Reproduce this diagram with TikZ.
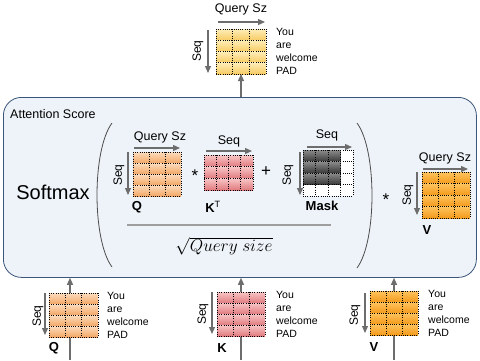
\documentclass[tikz,border=0pt]{standalone}
\usepackage[no-math]{fontspec}
\setmainfont{Liberation Sans}
\usetikzlibrary{arrows.meta,fit}
\definecolor{Qa}{HTML}{FCDDBE}\definecolor{Qb}{HTML}{F2A766}
\definecolor{Ka}{HTML}{F8C6C6}\definecolor{Kb}{HTML}{E07A7E}
\definecolor{Va}{HTML}{FFC45E}\definecolor{Vb}{HTML}{F39A1C}
\definecolor{Ya}{HTML}{FEEDB8}\definecolor{Yb}{HTML}{F7CB63}
\definecolor{Ma}{HTML}{8C8C8C}\definecolor{Mb}{HTML}{383838}
\definecolor{boxfill}{HTML}{EEF3F9}\definecolor{boxline}{HTML}{3A5578}
\definecolor{arrgray}{HTML}{6D6D6D}
\tikzset{
  arr/.style={-{Triangle[length=7pt,width=6pt]},draw=arrgray,line width=1.2pt},
  gridd/.style={draw=black,line width=0.7pt,dash pattern=on 0.7pt off 1.5pt},
  lbl/.style={font=\fontsize{12.5}{14}\selectfont,inner sep=0pt},
  seqlbl/.style={font=\fontsize{12}{14}\selectfont,inner sep=0pt,rotate=90},
  bl/.style={font=\fontsize{13}{15}\selectfont\bfseries,inner sep=0pt},
  words/.style={font=\fontsize{10.5}{13}\selectfont,align=left,inner sep=0pt,anchor=west},
  paren/.style={draw=black!70,line width=0.8pt},
  op/.style={inner sep=0pt,font=\fontsize{17}{18}\selectfont},
}
\newcommand{\gridlines}[6]{%
  \foreach \ii in {0,...,#5}{\pgfmathsetmacro{\xx}{#1+\ii*(#3-#1)/#5}\draw[gridd] (\xx,#2) -- (\xx,#4);}%
  \foreach \jj in {0,...,#6}{\pgfmathsetmacro{\yy}{#2+\jj*(#4-#2)/#6}\draw[gridd] (#1,\yy) -- (#3,\yy);}%
}
\newcommand{\gmat}[8]{%
  \node[fit={(#2,#3)(#4,#5)},inner sep=0pt,outer sep=0pt] (#1) {};
  \foreach \ii in {1,...,#7}{%
    \pgfmathsetmacro{\ya}{#3+(\ii-1)*(#5-#3)/#7}%
    \pgfmathsetmacro{\yb}{#3+\ii*(#5-#3)/#7}%
    \shade[top color=#8a,bottom color=#8b] (#2,\ya) rectangle (#4,\yb);}
  \gridlines{#2}{#3}{#4}{#5}{#6}{#7}
}
\begin{document}
\begin{tikzpicture}[x=1pt,y=-1pt]
\useasboundingbox (0,0) rectangle (480,360);
% attention box
\node[draw=boxline,fill=boxfill,line width=0.8pt,rounded corners=18pt,minimum width=473pt,minimum height=180pt,anchor=north west,inner sep=0pt] (box) at (3,97) {};
\node[lbl,anchor=west] (title) at (10,114) {Attention Score};
\node[inner sep=0pt,font=\fontsize{20}{22}\selectfont] (softmax) at (53,192) {Softmax};
% parentheses
\coordinate (lpt) at (112,123); \coordinate (lpb) at (112,267);
\coordinate (rpt) at (357,123); \coordinate (rpb) at (357,268);
\draw[paren] (lpt) .. controls (92,150) and (92,240) .. (lpb);
\draw[paren] (rpt) .. controls (377,150) and (377,241) .. (rpb);
% bottom input arrows (under matrices)
\coordinate (qin) at (70,360); \coordinate (kin) at (241,360); \coordinate (vin) at (394,360);
\draw[arr] (qin) -- (qin |- box.south);
\draw[arr] (kin) -- (kin |- box.south);
\draw[arr] (vin) -- (vin |- box.south);
% ---- top output matrix
\gmat{T}{216}{29}{266}{74}{3}{4}{Y}
\draw[arr] (T.south |- box.north) -- (T.south);
\draw[arr] ([xshift=2pt,yshift=7pt]T.north west) -- ([xshift=-1pt,yshift=7pt]T.north east);
\node[lbl] (tq) at (241,9) {Query Sz};
\draw[arr] ([xshift=-8pt,yshift=-1pt]T.north west) -- ([xshift=-8pt,yshift=1pt]T.south west);
\node[seqlbl] (ts) at (198,51) {Seq};
\node[words] (tw) at ([xshift=10pt]T.east) {You\\are\\welcome\\PAD};
% ---- inner Q
\gmat{iQ}{133}{152}{181}{196}{3}{4}{Q}
\draw[arr] ([xshift=1pt,yshift=4pt]iQ.north west) -- ([xshift=-1pt,yshift=4pt]iQ.north east);
\node[lbl] (iqq) at (160,137) {Query Sz};
\draw[arr] ([xshift=-5pt]iQ.north west) -- ([xshift=-5pt,yshift=1pt]iQ.south west);
\node[seqlbl] (iqs) at (119,175) {Seq};
\node[bl] (iql) at (137,207) {Q};
\node[op] (m1) at (195,176) {*};
% ---- inner K^T
\gmat{iK}{204}{155}{253}{190}{4}{3}{K}
\draw[arr] ([xshift=2pt,yshift=4pt]iK.north west) -- ([xshift=-1pt,yshift=4pt]iK.north east);
\node[lbl] (iks) at (229,141) {Seq};
\node[bl] (ikl) at (213,207) {K\textsuperscript{\mdseries T}};
\node[op] (p1) at (266,172) {+};
% ---- mask
\node[fit={(303,150)(353,196)},inner sep=0pt,outer sep=0pt] (M) {};
\fill[white] (303,150) rectangle (353,196);
\foreach \ii in {1,2,3}{%
  \pgfmathsetmacro{\ya}{150+(\ii-1)*11.5}\pgfmathsetmacro{\yb}{150+\ii*11.5}%
  \shade[top color=Ma,bottom color=Mb] (303,\ya) rectangle (340.5,\yb);}
\gridlines{303}{150}{353}{196}{4}{4}
\draw[arr] ([xshift=4pt,yshift=3pt]M.north west) -- ([xshift=-1pt,yshift=3pt]M.north east);
\node[lbl] (ms) at (327,135) {Seq};
\draw[arr] ([xshift=-3pt,yshift=-2pt]M.north west) -- ([xshift=-3pt,yshift=1pt]M.south west);
\node[seqlbl] (msl) at (288,175) {Seq};
\node[bl] (ml) at (322,206) {Mask};
% fraction
\coordinate (fl) at (127,225); \coordinate (fr) at (331,225);
\draw[draw=black!38,line width=2pt] (fl) -- (fr);
\node[inner sep=0pt,font=\fontsize{16.5}{18}\selectfont] (sq) at (224,246) {$\sqrt{Query\ size}$};
\node[op] (m2) at (386,200) {*};
% ---- inner V
\gmat{iV}{422}{172}{470}{218}{3}{4}{V}
\draw[arr] ([xshift=1pt,yshift=3pt]iV.north west) -- ([xshift=-2pt,yshift=3pt]iV.north east);
\node[lbl] (ivq) at (445,158) {Query Sz};
\draw[arr] ([xshift=-5pt]iV.north west) -- ([xshift=-5pt,yshift=3pt]iV.south west);
\node[seqlbl] (ivs) at (408,195) {Seq};
\node[bl] (ivl) at (427,230) {V};
% ---- bottom Q
\gmat{bQ}{49}{293}{98}{337}{3}{4}{Q}
\draw[arr] ([xshift=-4pt]bQ.north west) -- ([xshift=-4pt,yshift=2pt]bQ.south west);
\node[seqlbl] (bqs) at (38,316) {Seq};
\node[bl] (bql) at (54,348) {Q};
\node[words] (bqw) at ([xshift=9pt]bQ.east) {You\\are\\welcome\\PAD};
% ---- bottom K
\gmat{bK}{217}{292}{265}{336}{3}{4}{K}
\draw[arr] ([xshift=-5pt]bK.north west) -- ([xshift=-5pt,yshift=2pt]bK.south west);
\node[seqlbl] (bks) at (203,314) {Seq};
\node[bl] (bkl) at (222,348) {K};
\node[words] (bkw) at ([xshift=11pt]bK.east) {You\\are\\welcome\\PAD};
% ---- bottom V
\gmat{bV}{370}{291}{418}{335}{3}{4}{V}
\draw[arr] ([xshift=-5pt,yshift=-2pt]bV.north west) -- ([xshift=-5pt,yshift=2pt]bV.south west);
\node[seqlbl] (bvs) at (355,315) {Seq};
\node[bl] (bvl) at (374,347) {V};
\node[words] (bvw) at ([xshift=10pt]bV.east) {You\\are\\welcome\\PAD};
\end{tikzpicture}
\end{document}
